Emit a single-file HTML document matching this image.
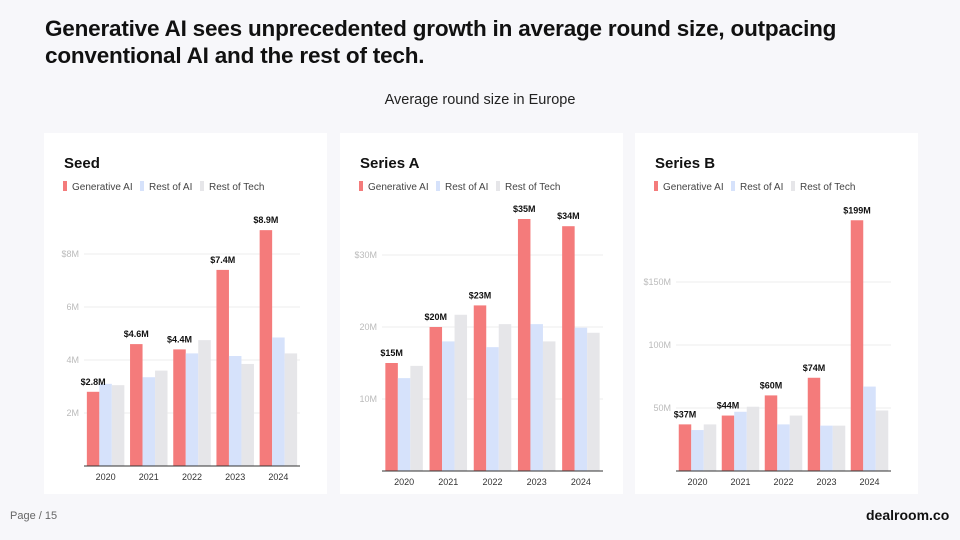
<!DOCTYPE html>
<html><head><meta charset="utf-8"><style>
body{margin:0;width:960px;height:540px;background:#f7f7fa;font-family:"Liberation Sans",sans-serif;overflow:hidden;position:relative}
h1{position:absolute;left:45px;top:15px;margin:0;font-size:22.5px;line-height:27px;font-weight:bold;color:#111;letter-spacing:-0.2px}
.sub{position:absolute;left:0;width:960px;top:92px;text-align:center;font-size:14.5px;color:#222}
.panel{position:absolute;top:133px;width:283px;height:361px;background:#fff}
svg{position:absolute;left:0;top:0}
</style></head><body>
<h1>Generative AI sees unprecedented growth in average round size, outpacing<br>conventional AI and the rest of tech.</h1>
<div class="sub">Average round size in Europe</div>
<div class="panel" style="left:44px"></div>
<div class="panel" style="left:340px"></div>
<div class="panel" style="left:635px"></div>
<svg id="s" width="960" height="540"></svg>
<div style="position:absolute;left:10px;top:510px;font-size:11px;color:#666">Page / 15</div>
<div style="position:absolute;left:866px;top:507px;font-size:14px;font-weight:bold;color:#111">dealroom.co</div>
<script>
const years=["2020","2021","2022","2023","2024"];
const seedGen=[2.8,4.6,4.4,7.4,8.9];
const seedAI=[3.1,3.35,4.25,4.15,4.85];
const seedTech=[3.05,3.6,4.75,3.85,4.25];
const seedLabels=["$2.8M","$4.6M","$4.4M","$7.4M","$8.9M"];
const seedTicks=[2,4,6,8];
const seedTickLabels=["2M","4M","6M","$8M"];
const aGen=[15,20,23,35,34];
const aAI=[12.9,18,17.2,20.4,19.9];
const aTech=[14.6,21.7,20.4,18,19.2];
const aLabels=["$15M","$20M","$23M","$35M","$34M"];
const aTicks=[10,20,30];
const aTickLabels=["10M","20M","$30M"];
const bGen=[37,44,60,74,199];
const bAI=[32.5,47,37,36,67];
const bTech=[37,51,44,36,48];
const bLabels=["$37M","$44M","$60M","$74M","$199M"];
const bTicks=[50,100,150];
const bTickLabels=["50M","100M","$150M"];

const svg=document.getElementById('s');
const NS="http://www.w3.org/2000/svg";
function mk(tag,a,txt){const e=document.createElementNS(NS,tag);for(const k in a)e.setAttribute(k,a[k]);if(txt!==undefined)e.textContent=txt;svg.appendChild(e);return e;}
const colors=["#f47b7b","#d6e2fb","#e6e6e9"];
function panel(p){
  const y=v=>p.base-v*p.scale;
  let t=mk('text',{x:p.px+20,y:168,'font-size':15,'font-weight':'bold',fill:'#111'},p.title);
  
  
  const leg=[["Generative AI",0],["Rest of AI",77],["Rest of Tech",137]];
  leg.forEach((l,i)=>{
    let r=mk('rect',{x:p.px+19+l[1],y:181,width:4,height:10,fill:colors[i]});
    
    
    let tx=mk('text',{x:p.px+28+l[1],y:190,'font-size':10,fill:'#444'},l[0]);
    
    
  });
  p.ticks.forEach((v,i)=>{
    let g=mk('line',{x1:p.x0,x2:p.x1,y1:y(v),y2:y(v),stroke:'#eee','stroke-width':1});
    
    
    let tl=mk('text',{x:p.x0-5,y:y(v)+3,'font-size':9,fill:'#bbb','text-anchor':'end'},p.tickLabels[i]);
    
    
  });
  const bw=12.5,gap=(p.x1-p.x0)/5;
  years.forEach((yr,i)=>{
    const c=p.x0+gap*(i+0.5);
    [p.gen,p.ai,p.tech].forEach((s,j)=>{
      let b=mk('rect',{x:c-bw*1.5+j*bw,y:y(s[i]),width:bw,height:s[i]*p.scale,fill:colors[j]});
      
      
    });
    let vl=mk('text',{x:c-bw,y:y(p.gen[i])-7,'font-size':9,'font-weight':'bold',fill:'#111','text-anchor':'middle'},p.labels[i]);
    
    
    let xl=mk('text',{x:c,y:p.base+14,'font-size':9,fill:'#333','text-anchor':'middle'},yr);
    
    
  });
  let ax=mk('line',{x1:p.x0,x2:p.x1,y1:p.base,y2:p.base,stroke:'#333','stroke-width':1});
  
  
}
panel({key:'seed',title:'Seed',px:44,x0:84,x1:300,base:466,scale:26.5,gen:seedGen,ai:seedAI,tech:seedTech,labels:seedLabels,ticks:seedTicks,tickLabels:seedTickLabels});
panel({key:'series-a',title:'Series A',px:340,x0:382,x1:603,base:471,scale:7.2,gen:aGen,ai:aAI,tech:aTech,labels:aLabels,ticks:aTicks,tickLabels:aTickLabels});
panel({key:'series-b',title:'Series B',px:635,x0:676,x1:891,base:471,scale:1.26,gen:bGen,ai:bAI,tech:bTech,labels:bLabels,ticks:bTicks,tickLabels:bTickLabels});
</script>
</body></html>
